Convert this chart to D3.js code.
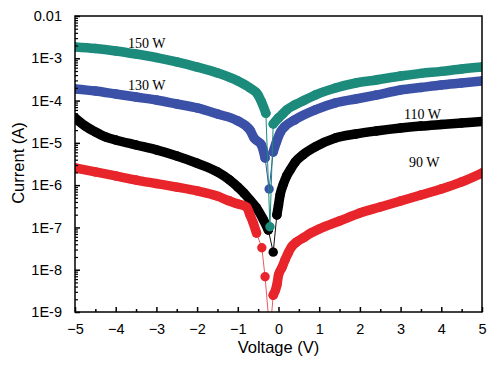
<!DOCTYPE html>
<html><head><meta charset="utf-8">
<script src="https://cdn.jsdelivr.net/npm/d3@7/dist/d3.min.js"></script>
<style>body{margin:0;background:#fff}svg{display:block}</style>
</head><body>
<svg id="c" width="500" height="371"></svg>
<script>
// ---- data ----
const volt150 = [-5,-4.5,-4,-3.5,-3,-2.5,-2,-1.5,-1,-0.7,-0.5,-0.42,-0.31,-0.21,-0.13,0,0.1,0.2,0.4,0.6,0.9,1.4,1.9,2.4,3,3.5,4,4.5,5];
const curr150 = [1.85e-3,1.70e-3,1.49e-3,1.26e-3,1.04e-3,8.2e-4,6.2e-4,4.5e-4,2.9e-4,1.98e-4,1.35e-4,9.4e-5,5.0e-5,1.04e-7,2.8e-5,3.9e-5,4.8e-5,6.0e-5,7.9e-5,9.8e-5,1.35e-4,1.98e-4,2.6e-4,3.07e-4,3.8e-4,4.4e-4,4.9e-4,5.6e-4,6.2e-4];

const volt130 = [-5,-4.5,-4,-3.5,-3,-2.5,-2,-1.5,-1,-0.7,-0.6,-0.42,-0.33,-0.23,-0.13,-0.05,0.05,0.15,0.4,0.9,1.4,1.9,2.4,3,3.5,4,4.5,5];
const curr130 = [1.88e-4,1.68e-4,1.43e-4,1.21e-4,1.03e-4,8.3e-5,6.7e-5,4.8e-5,3.3e-5,2.0e-5,1.3e-5,8.9e-6,4.4e-6,8.1e-7,6.1e-6,1.05e-5,1.8e-5,2.4e-5,3.5e-5,6.0e-5,8.8e-5,1.09e-4,1.35e-4,1.78e-4,2.04e-4,2.34e-4,2.6e-4,2.9e-4];

const volt110 = [-5,-4.75,-4.5,-4.25,-4,-3.5,-3,-2.5,-2,-1.5,-1.2,-1,-0.85,-0.7,-0.54,-0.38,-0.25,-0.13,-0.04,0,0.04,0.12,0.2,0.3,0.41,0.6,0.9,1.4,1.9,2.4,3,3.5,4,4.5,5];
const curr110 = [3.87e-5,2.5e-5,1.81e-5,1.38e-5,1.17e-5,8.9e-6,6.8e-6,4.9e-6,3.3e-6,2.05e-6,1.32e-6,9.0e-7,6.5e-7,4.45e-7,2.9e-7,1.58e-7,8.7e-8,2.6e-8,1.97e-7,3.4e-7,5.9e-7,1.06e-6,1.65e-6,2.4e-6,3.5e-6,5.2e-6,8.0e-6,1.3e-5,1.62e-5,1.91e-5,2.25e-5,2.5e-5,2.72e-5,2.95e-5,3.2e-5];

const volt90 = [-5,-4.5,-4,-3.5,-3,-2.5,-2,-1.5,-1.2,-1,-0.78,-0.7,-0.62,-0.54,-0.41,-0.33,-0.21,-0.13,-0.04,0,0.08,0.16,0.24,0.32,0.44,0.6,0.8,1,1.5,2,2.5,3,3.5,4,4.5,5];
const curr90 = [2.54e-6,2.05e-6,1.65e-6,1.32e-6,1.09e-6,9.0e-7,7.3e-7,5.5e-7,4.2e-7,3.6e-7,3.0e-7,1.97e-7,1.27e-7,7.4e-8,3.3e-8,6.8e-9,3e-10,2.5e-9,4.35e-9,7.5e-9,1.1e-8,1.7e-8,2.5e-8,3.45e-8,4.5e-8,5.6e-8,7.4e-8,9.2e-8,1.42e-7,2.19e-7,3.04e-7,4.22e-7,5.85e-7,8.1e-7,1.19e-6,1.94e-6];

const seriesNames = ["110 W","90 W","130 W","150 W"];
const xTickValues = [-5,-4,-3,-2,-1,0,1,2,3,4,5];
const yTickValues = [1e-2,1e-3,1e-4,1e-5,1e-6,1e-7,1e-8,1e-9];
const yTickLabels = ["0.01","1E-3","1E-4","1E-5","1E-6","1E-7","1E-8","1E-9"];

// ---- layout ----
const L = 75, R = 482, T = 16, B = 312;
const svg = d3.select("#c");
const x = d3.scaleLinear().domain([-5,5]).range([L,R]);
const y = d3.scaleLog().domain([1e-9,1e-2]).range([B,T]);

const series = [
  {name:seriesNames[0], v:volt110, c:curr110, color:"#000000", line:"#111111", lx:404, ly:119},
  {name:seriesNames[1], v:volt90,  c:curr90,  color:"#e8252b", line:"#ef5a5e", lx:409, ly:167},
  {name:seriesNames[2], v:volt130, c:curr130, color:"#3b51a7", line:"#3b51a7", lx:128, ly:90},
  {name:seriesNames[3], v:volt150, c:curr150, color:"#1c8b7c", line:"#1c8b7c", lx:128, ly:48}
];

svg.append("defs").append("clipPath").attr("id","clip")
  .append("rect").attr("x",L).attr("y",T).attr("width",R-L).attr("height",B-T);

const plot = svg.append("g").attr("clip-path","url(#clip)");
series.forEach(s => {
  const pts = s.v.map((v,i)=>[x(v), y(s.c[i])]);
  const g = plot.append("g");
  // thin connecting line
  g.append("path").attr("d", d3.line()(pts)).attr("fill","none")
    .attr("stroke", s.line).attr("stroke-width",1);
  // dense marker band: runs of points without large vertical jumps
  const runs = [];
  let cur = [pts[0]];
  for (let i=1;i<pts.length;i++){
    if (Math.abs(pts[i][1]-pts[i-1][1]) < 14) cur.push(pts[i]);
    else { runs.push(cur); cur = [pts[i]]; }
  }
  runs.push(cur);
  runs.filter(r=>r.length>1).forEach(r=>{
    g.append("path").attr("d", d3.line().curve(d3.curveMonotoneX)(r)).attr("fill","none")
      .attr("stroke",s.color).attr("stroke-width",9.5)
      .attr("stroke-linecap","round").attr("stroke-linejoin","round");
  });
  g.selectAll("circle").data(pts).join("circle")
    .attr("cx",d=>d[0]).attr("cy",d=>d[1]).attr("r",4.7).attr("fill",s.color);
});

// frame
svg.append("rect").attr("x",L).attr("y",T).attr("width",R-L).attr("height",B-T)
  .attr("fill","none").attr("stroke","#000").attr("stroke-width",1.5);

// x axis ticks (inward)
const xAxis = d3.axisBottom(x).tickValues(xTickValues).tickSize(-5).tickPadding(12)
  .tickFormat(d => d < 0 ? "\u2212" + Math.abs(d) : String(d));
const gx = svg.append("g").attr("transform",`translate(0,${B})`).call(xAxis);
gx.select(".domain").remove();
gx.selectAll("line").attr("stroke","#000").attr("stroke-width",1.5);
gx.selectAll("text").attr("font-family","'Liberation Sans',Arial,sans-serif").attr("font-size","14.5px").attr("fill","#000");
const minorX = d3.range(-4.5,5,1);
const gxm = svg.append("g").attr("transform",`translate(0,${B})`)
  .call(d3.axisBottom(x).tickValues(minorX).tickSize(-3).tickFormat(""));
gxm.select(".domain").remove();
gxm.selectAll("line").attr("stroke","#000").attr("stroke-width",1.5);

// y axis
const yAxis = d3.axisLeft(y).tickValues(yTickValues).tickSize(-5).tickPadding(13)
  .tickFormat((d,i)=>yTickLabels[i]);
const gy = svg.append("g").attr("transform",`translate(${L},0)`).call(yAxis);
gy.select(".domain").remove();
gy.selectAll("line").attr("stroke","#000").attr("stroke-width",1.5);
gy.selectAll("text").attr("font-family","'Liberation Sans',Arial,sans-serif").attr("font-size","14.5px").attr("fill","#000");
const minorY = [];
for (let e=-9;e<-2;e++) for (let m=2;m<=9;m++) minorY.push(m*Math.pow(10,e));
const gym = svg.append("g").attr("transform",`translate(${L},0)`)
  .call(d3.axisLeft(y).tickValues(minorY).tickSize(-3).tickFormat(""));
gym.select(".domain").remove();
gym.selectAll("line").attr("stroke","#000").attr("stroke-width",1.2);

// titles
svg.append("text").attr("x",(L+R)/2).attr("y",353).attr("text-anchor","middle")
  .attr("font-family","'Liberation Sans',Arial,sans-serif").attr("font-size","16.5px").text("Voltage (V)");
svg.append("text").attr("transform","translate(24,163) rotate(-90)").attr("text-anchor","middle")
  .attr("font-family","'Liberation Sans',Arial,sans-serif").attr("font-size","16.5px").text("Current (A)");

// series labels
series.forEach(s => {
  svg.append("text").attr("x",s.lx).attr("y",s.ly)
    .attr("font-family","'Liberation Serif','Times New Roman',serif").attr("font-size","14px")
    .attr("fill","#000").text(s.name);
});
</script>
</body></html>
